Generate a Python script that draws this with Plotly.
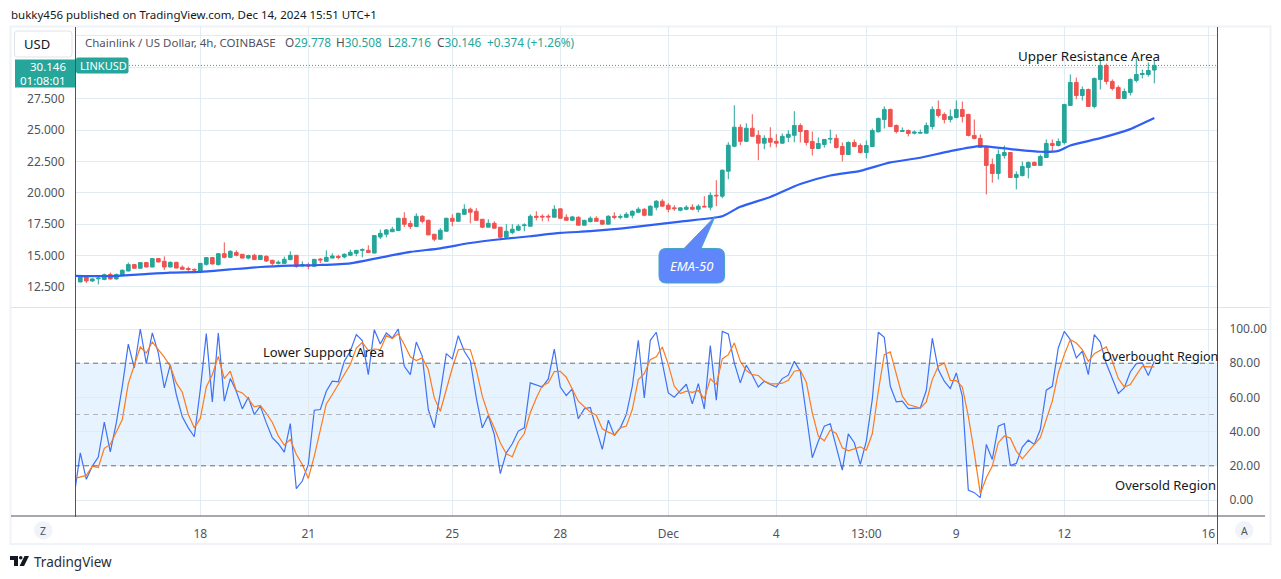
import pandas as pd
import plotly.graph_objects as go
from plotly.subplots import make_subplots

# 4h candles, first bar 14 Nov 16:00
opens = [12.9,13.35,12.98,13.15,13.1,13.5,13.14,13.4,13.77,14.28,13.99,14.44,14.09,14.76,14.54,14.09,14.46,14.07,13.97,13.9,
    13.75,14.3,14.84,14.28,15.15,14.86,15.24,15.1,14.8,15.02,14.68,14.94,14.62,14.38,14.38,14.68,15.02,14.17,14.25,14.15,
    14.72,14.54,14.8,14.94,14.89,15.02,15.18,15.42,15.42,15.2,16.48,16.7,16.9,17.0,17.97,17.55,17.32,18.13,17.81,16.7,
    16.3,16.94,17.97,17.73,18.29,18.69,18.53,17.89,17.26,17.57,17.26,16.46,16.83,17.02,17.39,17.34,18.13,18.13,18.13,18.05,
    18.72,18.05,17.81,18.05,17.42,17.7,17.97,17.81,17.5,18.13,18.05,18.05,18.21,18.45,18.69,18.21,18.85,19.33,19.01,18.8,
    18.61,18.69,18.85,18.69,18.93,18.85,19.8,19.73,21.72,23.71,25.22,24.1,25.14,24.58,23.95,24.34,24.1,23.95,24.42,24.58,
    25.36,24.96,24.09,23.53,23.85,24.28,24.33,23.69,23.05,24.01,23.77,23.21,23.69,24.86,25.84,26.64,25.36,24.88,24.96,24.75,
    24.75,24.75,25.28,26.64,26.24,25.84,26.0,26.64,26.24,24.57,24.33,23.69,22.26,21.54,22.97,23.21,21.22,21.38,22.02,22.42,
    22.18,22.81,23.93,23.77,24.0,26.96,28.79,27.75,28.23,26.88,29.03,30.14,28.87,28.39,27.51,27.99,28.95,29.42,29.42,29.778]
highs = [13.43,13.37,13.2,13.3,13.56,13.65,13.56,13.9,14.44,14.3,14.46,14.5,14.8,14.8,14.94,14.54,14.5,14.22,14.12,13.97,
    14.4,14.86,14.9,15.2,16.05,15.42,15.42,15.12,15.07,15.15,15.07,15.02,14.68,14.62,14.92,15.34,15.04,14.54,14.44,14.72,
    14.8,15.42,15.18,15.07,15.18,15.47,15.42,15.58,15.82,16.62,17.07,17.12,17.3,18.0,18.45,17.79,18.37,18.21,17.86,16.7,
    17.18,18.0,18.29,18.4,19.09,18.82,18.77,17.92,17.89,17.73,17.26,17.5,17.5,17.5,17.57,18.29,18.53,18.29,18.29,19.01,
    18.77,18.29,18.16,18.13,17.84,18.13,18.13,17.84,18.21,18.45,18.29,18.45,18.61,18.85,18.77,19.01,19.41,19.49,19.17,19.01,
    18.85,19.01,19.09,19.09,19.73,20.04,21.0,21.85,24.03,26.97,25.46,25.54,26.26,24.98,24.58,25.22,24.66,24.72,24.98,26.5,
    25.52,24.96,24.88,24.41,24.28,25.04,24.65,24.01,24.09,24.25,23.93,24.17,25.12,26.0,26.88,26.7,25.44,25.2,25.04,24.96,
    25.04,25.6,26.88,27.35,26.4,26.64,27.35,27.27,26.3,25.84,24.65,23.77,22.73,23.45,23.77,23.25,21.7,22.5,22.5,22.5,
    23.05,24.25,24.25,24.33,27.09,29.42,29.18,28.47,28.3,29.18,30.86,30.3,29.03,28.55,28.31,29.11,30.7,29.82,30.38,30.508]
lows = [12.87,12.82,12.9,12.7,13.03,13.08,13.08,13.38,13.75,13.97,13.97,14.07,14.07,14.47,13.85,14.07,13.98,13.88,13.75,13.6,
    13.7,14.2,14.3,14.2,14.78,14.8,14.94,14.78,14.7,14.65,14.68,14.5,14.2,14.28,14.36,14.62,14.02,14.15,13.9,14.13,
    14.4,14.5,14.78,14.7,14.78,15.0,14.94,14.86,15.2,15.18,16.32,16.45,16.88,16.95,17.28,17.12,17.3,17.57,16.62,16.14,
    16.27,16.9,17.34,17.7,18.24,17.57,17.79,17.18,17.26,17.15,16.22,16.43,16.7,17.0,16.94,17.31,17.81,17.73,17.73,18.05,
    17.95,17.81,17.79,17.42,17.42,17.65,17.73,17.47,17.5,17.89,17.89,18.05,17.97,18.37,18.13,18.21,18.61,18.93,18.45,18.56,
    18.53,18.61,18.61,18.45,18.85,18.61,18.93,19.57,21.08,23.63,23.79,24.03,24.5,22.59,23.47,23.63,23.63,23.92,24.03,24.03,
    24.0,23.77,22.97,23.5,23.6,23.93,23.53,22.5,23.03,23.69,23.13,22.73,23.66,24.8,25.12,25.26,24.72,24.86,24.49,24.65,
    24.72,24.72,25.04,26.0,25.52,25.6,25.92,25.6,24.49,24.25,23.61,19.87,20.8,21.06,22.73,21.2,20.27,21.3,21.14,22.18,
    22.18,22.79,23.34,23.69,23.85,26.93,27.46,27.35,26.85,26.72,28.23,28.63,28.15,27.49,27.49,27.75,28.79,29.11,29.26,28.716]
closes = [13.35,12.98,13.14,13.2,13.48,13.14,13.5,13.83,14.28,13.99,14.44,14.09,14.76,14.49,14.09,14.46,14.01,13.91,13.9,13.85,
    14.38,14.84,14.33,15.15,14.86,15.34,15.02,14.8,15.0,14.68,15.0,14.57,14.38,14.46,14.7,15.02,14.15,14.28,14.17,14.7,
    14.65,14.86,14.97,14.86,15.1,15.26,15.42,15.47,15.24,16.6,16.77,17.04,17.1,17.97,17.49,17.32,18.13,17.73,16.65,16.3,
    17.02,17.97,17.73,18.37,18.69,18.45,17.81,17.26,17.57,17.18,16.46,16.94,17.1,17.34,17.44,18.13,18.05,18.08,18.08,18.69,
    17.97,17.81,18.08,17.42,17.81,17.97,17.73,17.5,18.13,18.05,18.1,18.29,18.53,18.69,18.21,18.93,19.33,18.93,18.69,18.74,
    18.8,18.85,18.69,18.93,18.88,19.8,19.76,21.8,23.79,25.22,24.1,25.14,24.5,23.95,24.34,24.03,23.95,24.5,24.66,25.36,
    24.88,24.01,23.53,23.93,24.25,24.32,23.61,23.05,24.01,23.69,23.21,23.77,24.96,25.92,26.64,25.28,24.88,24.96,24.72,24.83,
    24.8,25.36,26.64,26.16,25.84,26.08,26.64,26.08,24.57,24.33,23.61,22.18,21.54,23.05,23.21,21.22,21.46,22.1,22.42,22.18,
    22.89,23.93,23.77,24.09,27.03,28.79,27.75,28.23,26.88,29.11,30.14,28.87,28.31,27.51,28.07,29.03,29.42,29.5,29.74,30.146]

# bar -1 is the hidden bar left of the axis, lines start there
ema_bars = [-1,5,10,15,20,25,30,35,40,45,50,55,60,65,70,75,80,85,90,95,100,105,107,110,115,120,125,130,135,140,145,150,155,160,163,165,170,175,179]
ema_values = [13.38,13.36,13.5,13.64,13.7,13.9,14.09,14.2,14.25,14.38,14.84,15.29,15.58,16.0,16.3,16.54,16.8,16.94,17.15,17.42,17.71,17.97,18.13,18.88,19.67,20.7,21.38,21.75,22.42,22.79,23.32,23.72,23.48,23.27,23.34,23.77,24.35,25.07,25.95]

stoch_k = [3,27.6,12.1,19.8,25.1,45.5,28.2,45.1,66.5,91.2,77.2,100,79.8,97.7,86,65.6,79.2,61.7,48.6,42.2,37,
    64.6,97.3,57.4,97.7,57.8,71,63.6,53.3,60.1,50,54.9,45.1,36.4,32.9,28,44.7,6.6,11.1,20.8,52.5,
    52.9,63.6,69.5,69.1,81.1,87,96.7,93.2,73.3,99.6,91.2,97.7,94.7,100,78.2,73.3,92.4,84,52.9,42.2,
    62.6,85.6,82.5,96.1,87,81.5,59.7,42.2,49.4,38.3,15.4,27.6,32.9,40.3,42.2,68.5,67.5,66.1,70.8,88.3,
    66.1,61.1,65,47.5,53.3,54.1,41.6,29.6,46.7,37.7,42.2,50,66.5,93.4,59.7,93.4,98.1,80.2,62.6,60.1,
    64,67.7,56.2,68.1,53.3,90.3,58.4,98.6,97.1,80.2,68.5,78.8,73,66.1,69.5,67.5,66.1,71,73,81.1,
    75.3,51,24.7,34.4,43.2,44.6,30.5,17.5,38.7,33.5,20.8,34.4,58.8,98.1,95.1,66.5,57.4,57.8,53.5,53.5,
    53.9,64,94.6,76.3,69.5,65.2,74.3,60.7,5.8,4.3,1.4,32.5,23.7,43.2,44.7,20.2,21.4,30.9,35,32.5,
    41.2,64.2,66.5,88.9,98.6,93.8,83.1,87,73.3,96.7,92.4,79.8,71,62.3,65.6,74.9,79.8,80.2,72.8,81.1]
stoch_d = [12.6,13.4,14.4,19.8,19,30.2,32.5,39.7,47.1,68.1,78.2,89.5,86,92.4,87.9,83.5,78.2,68.5,63,50,42.2,
    47.7,66.1,73.3,84,71,75.3,64,62.6,59.1,54.5,55.3,50.6,45.5,37.4,32.1,35.4,26.7,20.8,12.6,25.7,
    41.2,56.2,61.7,67.5,73.3,79.2,88.9,92.2,87.5,88.3,87.9,96.1,94.4,97.3,90.9,83.7,81.5,83.1,76.3,59.7,
    51.9,64.6,77.2,87.9,88.3,87.9,76.3,60.7,50,42.2,33.5,27,25.3,33.9,38.9,51,59.7,66.9,68.5,75.1,
    75.3,71.8,64.6,57.8,54.5,51.4,49.6,41.6,39.7,38.1,42.2,43.2,52.9,70.4,73.9,82.1,83.7,89.5,79.2,66.5,
    62.3,63.6,63,64,59.1,70.8,67.5,82.5,85,91.8,81.1,75.7,73.3,72.8,69.5,67.9,67.9,68.3,70,75.3,
    75.9,68.9,51,37.4,34.6,40.9,38.9,30.5,28.8,30,31.1,29.2,38.7,63.6,85,86.6,73.3,60.7,55.8,54.9,
    53.7,57.4,70.4,78.2,80.2,70,69.8,66.1,49,27.6,3.7,13,19.8,33.5,37.4,36.2,28.6,24.1,28.6,32.5,
    36.4,47.1,57.8,74.3,85,93.8,91.8,87.9,81.1,85.6,87.5,89.5,81.1,71,66.1,67.5,73,78.2,77.8,77.8]

price_ticks = [12.5,15,17.5,20,22.5,25,27.5,30,32.5]
price_labels = ["12.500","15.000","17.500","20.000","22.500","25.000","27.500","",""]
stoch_ticks = [0,20,40,60,80,100]
stoch_labels = ["0.00","20.00","40.00","60.00","80.00","100.00"]
date_ticks = ["2024-11-18","2024-11-21","2024-11-25","2024-11-28","2024-12-01","2024-12-04","2024-12-06 12:00","2024-12-09","2024-12-12","2024-12-16"]
date_labels = ["18","21","25","28","Dec","4","13:00","9","12","16"]

GREEN = "#26a69a"
RED = "#ef5350"
GRID = "#e1ecf2"
TEXT = "#50535e"
FONT = "Noto Sans"

# plot area in page pixels, everything outside the axes is placed from these
LEFT, RIGHT, TOP, BOTTOM = 75, 1217, 27, 516
SPLIT = 307.5


def fx(px):
    return (px - LEFT) / (RIGHT - LEFT)


def fy(py):
    return (BOTTOM - py) / (BOTTOM - TOP)


def box(x0, y0, x1, y1, **kw):
    kw.setdefault("line_width", 0)
    fig.add_shape(type="rect", xref="paper", yref="paper", x0=fx(x0), x1=fx(x1), y0=fy(y0), y1=fy(y1), **kw)


def label(px, py, text, size=12, color="#131722", anchor="left", **kw):
    fig.add_annotation(xref="paper", yref="paper", x=fx(px), y=fy(py), text=text, showarrow=False,
                       xanchor=anchor, yanchor="middle", borderpad=0,
                       font=dict(family=FONT, size=size, color=color), **kw)


def rounded_path(x0, y0, x1, y1, r, wedge=None):
    # rounded box in page pixels, wedge is an optional (a, tipx, tipy, b) pointer on the top edge
    pts = f"M {fx(x0 + r)} {fy(y0)} "
    if wedge:
        a, tipx, tipy, b = wedge
        pts += f"L {fx(a)} {fy(y0)} L {fx(tipx)} {fy(tipy)} L {fx(b)} {fy(y0)} "
    pts += f"L {fx(x1 - r)} {fy(y0)} Q {fx(x1)} {fy(y0)} {fx(x1)} {fy(y0 + r)} "
    pts += f"L {fx(x1)} {fy(y1 - r)} Q {fx(x1)} {fy(y1)} {fx(x1 - r)} {fy(y1)} "
    pts += f"L {fx(x0 + r)} {fy(y1)} Q {fx(x0)} {fy(y1)} {fx(x0)} {fy(y1 - r)} "
    pts += f"L {fx(x0)} {fy(y0 + r)} Q {fx(x0)} {fy(y0)} {fx(x0 + r)} {fy(y0)} Z"
    return pts


times = pd.date_range("2024-11-14 16:00", periods=len(opens), freq="4h")
stoch_times = pd.date_range("2024-11-14 12:00", periods=len(stoch_k), freq="4h")
ema_times = [stoch_times[i + 1] for i in ema_bars]

fig = make_subplots(rows=2, cols=1, shared_xaxes=True)

fig.add_trace(go.Candlestick(
    x=times, open=opens, high=highs, low=lows, close=closes,
    increasing=dict(line=dict(color=GREEN, width=1), fillcolor=GREEN),
    decreasing=dict(line=dict(color=RED, width=1), fillcolor=RED),
    whiskerwidth=0,
), row=1, col=1)
fig.add_trace(go.Scatter(x=ema_times, y=ema_values, mode="lines", line=dict(color="#2f5ff5", width=2.2, shape="spline", smoothing=0.6)), row=1, col=1)
fig.add_trace(go.Scatter(x=stoch_times, y=stoch_k, mode="lines", line=dict(color="#3f72f5", width=1.2)), row=2, col=1)
fig.add_trace(go.Scatter(x=stoch_times, y=stoch_d, mode="lines", line=dict(color="#ff7a1a", width=1.2)), row=2, col=1)

# time range from the pixel position of the first bar, 6 px a bar
bar_ms = pd.Timedelta(hours=4)
x_start = times[0] - bar_ms * ((80.3 - LEFT) / 6)
x_end = times[0] + bar_ms * ((RIGHT - 80.3) / 6)

fig.update_xaxes(range=[x_start, x_end], showgrid=True, gridcolor=GRID, gridwidth=1, zeroline=False,
                 tickvals=date_ticks, ticktext=date_labels, ticks="outside", ticklen=7, tickcolor="rgba(0,0,0,0)",
                 tickfont=dict(family=FONT, size=12, color=TEXT), rangeslider_visible=False, showline=False)
fig.update_yaxes(range=[12.5 - 20.5 / 12.533, 27.5 + 71.5 / 12.533], row=1, col=1, side="left", tickvals=price_ticks, ticktext=price_labels,
                 showgrid=True, gridcolor=GRID, zeroline=False, ticks="outside", ticklen=7, tickcolor="rgba(0,0,0,0)",
                 tickfont=dict(family=FONT, size=12, color=TEXT))
fig.update_yaxes(range=[-16 / 1.71, 100 + 21 / 1.71], row=2, col=1, side="right", tickvals=stoch_ticks, ticktext=stoch_labels,
                 showgrid=True, gridcolor=GRID, zeroline=False, ticks="outside", ticklen=9, tickcolor="rgba(0,0,0,0)",
                 tickfont=dict(family=FONT, size=12, color=TEXT))

fig.update_layout(
    width=1281, height=579, autosize=False, showlegend=False, plot_bgcolor="white", paper_bgcolor="white",
    margin=dict(l=LEFT, r=1281 - RIGHT, t=TOP, b=579 - BOTTOM, pad=0),
    yaxis=dict(domain=[fy(SPLIT), 1]), yaxis2=dict(domain=[0, fy(SPLIT + 0.5)]),
    hovermode=False, boxgap=0.12,
)

# stochastic band and levels
fig.add_hrect(y0=20, y1=80, fillcolor="rgba(33,150,243,0.11)", line_width=0, layer="below", row=2, col=1)
fig.add_hline(y=80, line=dict(color="#6a6d78", width=1, dash="5px,4px"), row=2, col=1)
fig.add_hline(y=20, line=dict(color="#6a6d78", width=1, dash="5px,4px"), row=2, col=1)
fig.add_hline(y=50, line=dict(color="#b2b5be", width=1, dash="5px,4px"), row=2, col=1)
# last price line
fig.add_hline(y=closes[-1], line=dict(color=GREEN, width=1, dash="1px,2px"), row=1, col=1)

# outer frame and axis lines
FRAME = "#eff2f6"
box(10, 25.5, 1271, 27.5, fillcolor=FRAME, layer="below")
box(10, 543, 1271, 545, fillcolor=FRAME, layer="below")
box(9.5, 25.5, 11.5, 545, fillcolor=FRAME, layer="below")
box(1269.5, 25.5, 1271.5, 545, fillcolor=FRAME, layer="below")
box(11, 307, 1270, 308, fillcolor="#e0e3eb", layer="below")
box(75, TOP, 76, BOTTOM + 1, fillcolor=TEXT)
box(1217, TOP, 1218, 544, fillcolor=TEXT)
box(11, 515.5, 1265, 516.5, fillcolor=TEXT)

# price tag and symbol tag
box(15, 59.5, 75, 87.5, fillcolor=GREEN)
fig.add_shape(type="path", xref="paper", yref="paper", path=rounded_path(76, 57.5, 128.5, 73.5, 2), fillcolor=GREEN, line_width=0)
label(67, 66, "30.146", size=11.5, color="#ffffff", anchor="right")
label(67, 80.5, "01:08:01", size=11.5, color="#ffffff", anchor="right")
label(79, 65.5, "LINKUSD", size=11, color="#ffffff")

# USD button
fig.add_shape(type="path", xref="paper", yref="paper", path=rounded_path(14.5, 31, 72, 57, 3), fillcolor="#ffffff", line=dict(color="#e0e3eb", width=1))
label(23, 44, "USD", size=13)

# round buttons on the time axis
fig.add_shape(type="circle", xref="paper", yref="paper", x0=fx(34), x1=fx(52.5), y0=fy(521), y1=fy(539.5), fillcolor="#f0f3fa", line_width=0)
fig.add_shape(type="circle", xref="paper", yref="paper", x0=fx(1235), x1=fx(1253.5), y0=fy(521), y1=fy(539.5), fillcolor="#f0f3fa", line_width=0)
label(43.2, 530.5, "Z", size=10.5, color=TEXT, anchor="center")
label(1244.2, 530.5, "A", size=10.5, color=TEXT, anchor="center")

# header and symbol line
label(9.5, 15, "bukky456 published on TradingView.com, Dec 14, 2024 15:51 UTC+1", size=11.5)
label(83.5, 42, "Chainlink / US Dollar, 4h, COINBASE", size=11.5, color=TEXT)
legend_items = [(283.5, "O", "29.778"), (335, "H", "30.508"), (387, "L", "28.716"), (436, "C", "30.146")]
for px, head, val in legend_items:
    label(px, 42, f"<span style='color:{TEXT}'>{head}</span>{val}", size=11.8, color=GREEN)
label(486, 42, "+0.374 (+1.26%)", size=11.8, color=GREEN)

# hand drawn chart labels
label(1089, 56.5, "Upper Resistance Area", size=13.4, anchor="center")
label(323.5, 352.5, "Lower Support Area", size=13, anchor="center")
label(1101, 356.5, "Overbought Region", size=12.6)
label(1113.5, 485, "Oversold Region", size=13)

# EMA-50 callout
fig.add_shape(type="path", xref="paper", yref="paper", path=rounded_path(659, 248.5, 724.5, 283, 7, wedge=(684, 715, 216.5, 701)),
              fillcolor="#5f87fb", line=dict(color="#45a5c9", width=1))
label(691.5, 266, "<i>EMA-50</i>", size=13, color="#ffffff", anchor="center")

# footer logo and name
fig.add_shape(type="path", xref="paper", yref="paper", fillcolor="#131722", line_width=0,
              path=f"M {fx(10)} {fy(556)} L {fx(18)} {fy(556)} L {fx(18)} {fy(566)} L {fx(14)} {fy(566)} L {fx(14)} {fy(560)} L {fx(10)} {fy(560)} Z "
                   f"M {fx(24.5)} {fy(556)} L {fx(29)} {fy(556)} L {fx(24)} {fy(566)} L {fx(19.5)} {fy(566)} Z")
fig.add_shape(type="circle", xref="paper", yref="paper", x0=fx(19), x1=fx(22.5), y0=fy(556), y1=fy(559.5), fillcolor="#131722", line_width=0)
label(33, 561.5, "TradingView", size=13.5, color="#2a2e39")

fig.write_html("out.html", config={"displayModeBar": False}, post_script="document.body.style.margin='0';")
